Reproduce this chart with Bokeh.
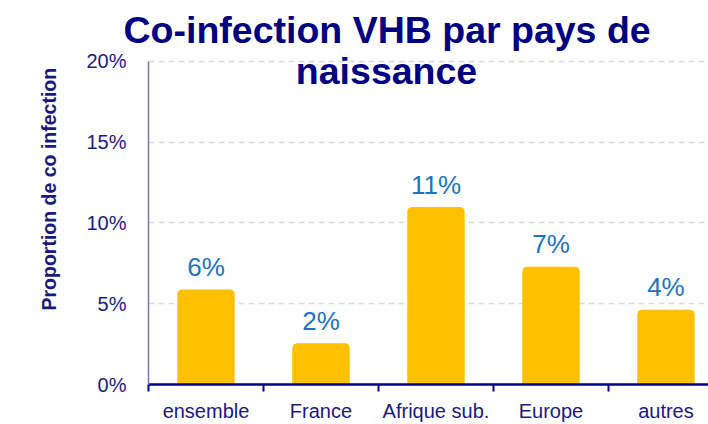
from bokeh.plotting import figure
from bokeh.models import ColumnDataSource, FixedTicker, Label, Range1d, LabelSet, Title
from bokeh.core.properties import value
from bokeh.embed import file_html
from bokeh.resources import INLINE

categories = ["ensemble", "France", "Afrique sub.", "Europe", "autres"]
values = [5.85, 2.52, 10.95, 7.26, 4.6]
value_labels = ["6%", "2%", "11%", "7%", "4%"]
y_ticks = [0, 5, 10, 15, 20]
y_tick_labels = ["0%", "5%", "10%", "15%", "20%"]
title_lines = ["Co-infection VHB par pays de", "naissance"]
y_label = "Proportion de co infection"

navy = "#1a1a7e"
font = "Liberation Sans"

# layout: frame starts a little above the 20% line; y axis line drawn 0..20 only
px_per_unit = 16.25
frame_top = 50
frame_h = 386 - frame_top
y_top = frame_h / px_per_unit

xs = list(range(len(categories)))
src = ColumnDataSource(dict(x=xs, top=values, lab=value_labels))

p = figure(width=708, height=424, output_backend="svg", toolbar_location=None,
           x_range=Range1d(-0.5, 4.37), y_range=Range1d(0, y_top),
           min_border_left=148, min_border_top=frame_top, min_border_bottom=38,
           min_border_right=0)
p.outline_line_color = None
p.background_fill_color = "white"
p.border_fill_color = "white"

p.ygrid.grid_line_color = "#dcdcdc"
p.ygrid.grid_line_dash = "6 4"
p.ygrid.grid_line_width = 1.5
p.xgrid.grid_line_color = None

p.vbar(x="x", top="top", width=0.49, source=src, color="#FFC000",
       border_radius=(4, 4, 0, 0))

p.add_layout(LabelSet(x="x", y="top", text="lab", source=src, text_align="center",
                      text_baseline="alphabetic", y_offset=14, text_color="#1b74c2",
                      text_font=value(font), text_font_size="26px"))

# x axis
p.xaxis.ticker = FixedTicker(ticks=xs, minor_ticks=[-0.5, 0.5, 1.5, 2.5, 3.5])
p.xaxis.major_label_overrides = {i: c for i, c in enumerate(categories)}
p.xaxis.major_tick_out = 0
p.xaxis.major_tick_in = 0
p.xaxis.minor_tick_out = 7
p.xaxis.minor_tick_in = 0
p.xaxis.minor_tick_line_color = "#000080"
p.xaxis.minor_tick_line_width = 2
p.xaxis.axis_line_color = "#000080"
p.xaxis.axis_line_width = 2.5
p.xaxis.major_label_text_color = navy
p.xaxis.major_label_text_font = font
p.xaxis.major_label_text_font_size = "20px"
p.xaxis.major_label_standoff = 8

# y axis
p.yaxis.ticker = FixedTicker(ticks=y_ticks)
p.yaxis.bounds = (0, 20)
p.yaxis.major_label_overrides = {t: l for t, l in zip(y_ticks, y_tick_labels)}
p.yaxis.major_tick_out = 0
p.yaxis.major_tick_in = 0
p.yaxis.minor_tick_line_color = None
p.yaxis.axis_line_color = "#7575b5"
p.yaxis.axis_line_width = 1.5
p.yaxis.major_label_text_color = navy
p.yaxis.major_label_text_font = font
p.yaxis.major_label_text_font_size = "20px"
p.yaxis.major_label_standoff = 22

# vertical axis title, placed a bit above the frame centre as in the original
p.add_layout(Title(text=y_label, align="left", offset=74,
                   vertical_align="bottom", standoff=47,
                   text_color=navy, text_font=font, text_font_style="bold",
                   text_font_size="19.5px"), "left")

# title: first line above the frame, second line inside it
p.add_layout(Title(text=title_lines[0], align="left", offset=-25,
                   vertical_align="bottom", standoff=0,
                   text_color="#000080", text_font=font, text_font_style="bold",
                   text_font_size="37.5px"), "above")
p.add_layout(Label(x=1.57, y=19.38, text=title_lines[1],
                   text_align="center", text_baseline="alphabetic",
                   text_color="#000080", text_font=font,
                   text_font_style="bold", text_font_size="37.5px"))

open("out.html", "w").write(file_html(p, INLINE))
